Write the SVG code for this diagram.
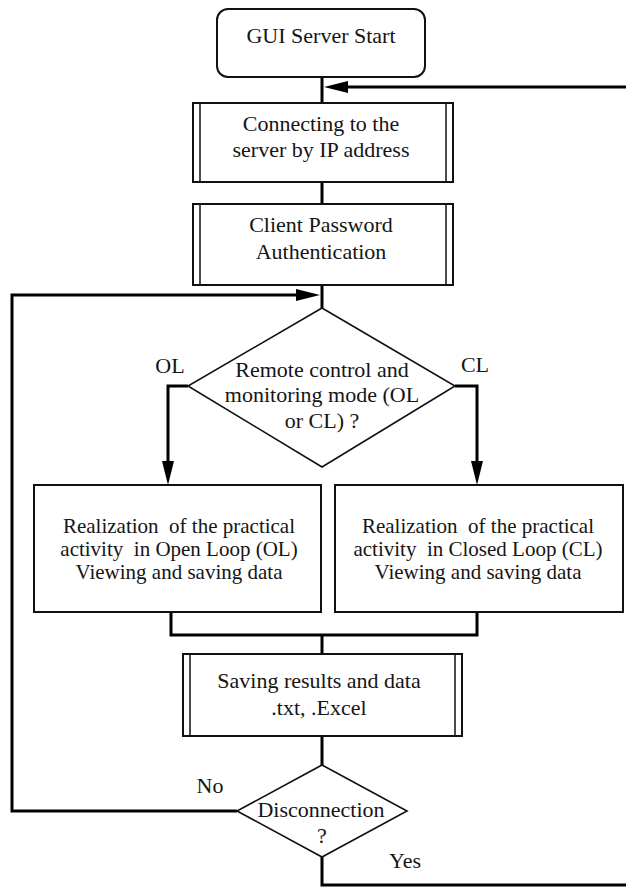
<svg xmlns="http://www.w3.org/2000/svg" width="626" height="887" viewBox="0 0 626 887">
  <defs>
    <marker id="arrow" markerUnits="userSpaceOnUse" markerWidth="24" markerHeight="12" viewBox="0 0 24 12" refX="0" refY="6" orient="auto">
      <path d="M0,0 L24,6 L0,12 z" fill="#000"/>
    </marker>
    <style>
      .box { fill: #fff; stroke: #111; stroke-width: 2; }
      .inner { stroke: #111; stroke-width: 1.5; }
      .dec { fill: #fff; stroke: #111; stroke-width: 1.6; }
      .conn { fill: none; stroke: #000; stroke-width: 3; stroke-linejoin: miter; }
      .arr { marker-end: url(#arrow); }
      text { font-family: "Liberation Serif", "Times New Roman", serif; font-size: 22px; fill: #151515; text-anchor: middle; }
      .small { font-size: 21px; white-space: pre; }
    </style>
  </defs>
  <rect width="626" height="887" fill="#fff"/>

  <!-- connectors -->
  <g id="connectors">
    <path class="conn" d="M322,77 V103"/>
    <path class="conn" d="M322,182 V204"/>
    <path class="conn" d="M322,285 V308"/>
    <path class="conn arr" d="M322,857 V885 H640 V87 H348"/>
    <path class="conn arr" d="M237,811 H12 V295 H296"/>
    <path class="conn arr" d="M188,386 H168 V461"/>
    <path class="conn arr" d="M455,386 H477 V461"/>
    <path class="conn" d="M171,612 V635 H477 V612"/>
    <path class="conn" d="M322,635 V654"/>
    <path class="conn" d="M322,736 V765"/>
  </g>

  <g id="start">
    <rect class="box" x="217" y="9" width="208" height="68" rx="11"/>
    <text x="321" y="43">GUI Server Start</text>
  </g>

  <g id="connect">
    <rect class="box" x="193" y="103" width="260" height="79"/>
    <line class="inner" x1="200" y1="103" x2="200" y2="182"/>
    <line class="inner" x1="446" y1="103" x2="446" y2="182"/>
    <text x="321" y="131">Connecting to the</text>
    <text x="321" y="157">server by IP address</text>
  </g>

  <g id="auth">
    <rect class="box" x="193" y="204" width="260" height="81"/>
    <line class="inner" x1="200" y1="204" x2="200" y2="285"/>
    <line class="inner" x1="446" y1="204" x2="446" y2="285"/>
    <text x="321" y="232">Client Password</text>
    <text x="321" y="259">Authentication</text>
  </g>

  <g id="mode">
    <polygon class="dec" points="322,308 455,386 322,467 188,386"/>
    <text x="322" y="377">Remote control and</text>
    <text x="322" y="402">monitoring mode (OL</text>
    <text x="322" y="428">or CL) ?</text>
  </g>

  <g id="labels">
    <text x="170" y="373">OL</text>
    <text x="475" y="372">CL</text>
    <text x="210" y="793">No</text>
    <text x="405" y="868">Yes</text>
  </g>

  <g id="open-loop">
    <rect class="box" x="34" y="485" width="287" height="127"/>
    <text class="small" x="179" y="533">Realization  of the practical</text>
    <text class="small" x="179" y="556">activity  in Open Loop (OL)</text>
    <text class="small" x="179" y="579">Viewing and saving data</text>
  </g>

  <g id="closed-loop">
    <rect class="box" x="335" y="485" width="288" height="127"/>
    <text class="small" x="478" y="533">Realization  of the practical</text>
    <text class="small" x="478" y="556">activity  in Closed Loop (CL)</text>
    <text class="small" x="478" y="579">Viewing and saving data</text>
  </g>

  <g id="save">
    <rect class="box" x="183" y="654" width="279" height="82"/>
    <line class="inner" x1="190" y1="654" x2="190" y2="736"/>
    <line class="inner" x1="455" y1="654" x2="455" y2="736"/>
    <text x="319" y="688">Saving results and data</text>
    <text x="319" y="715">.txt, .Excel</text>
  </g>

  <g id="disconnect">
    <polygon class="dec" points="322,765 407,811 322,857 237,811"/>
    <text x="321" y="817">Disconnection</text>
    <text x="322" y="843">?</text>
  </g>
</svg>
